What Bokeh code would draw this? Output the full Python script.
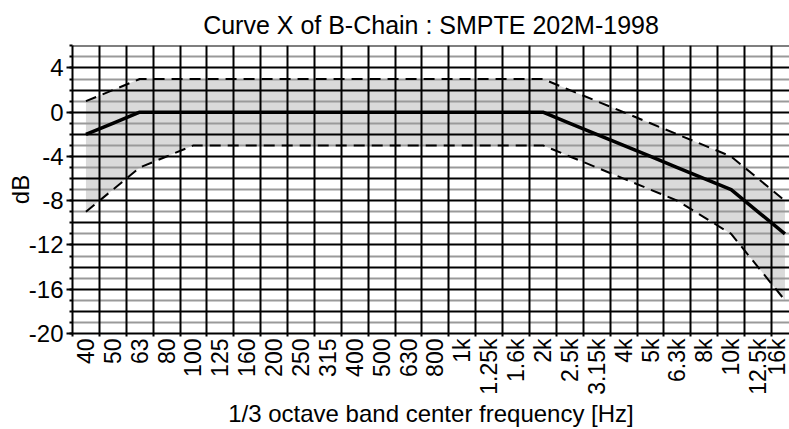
from math import pi
from bokeh.plotting import figure
from bokeh.models import Range1d, FixedTicker, SingleIntervalTicker, Grid
from bokeh.embed import file_html
from bokeh.resources import INLINE

# 1/3 octave band centre frequencies (tick labels)
bands = ["40", "50", "63", "80", "100", "125", "160", "200", "250", "315",
         "400", "500", "630", "800", "1k", "1.25k", "1.6k", "2k", "2.5k",
         "3.15k", "4k", "5k", "6.3k", "8k", "10k", "12.5k", "16k"]

# Curve X (dB) and tolerance limits
curve_x = [-2, -1, 0, 0, 0, 0, 0, 0, 0, 0, 0, 0, 0, 0, 0, 0, 0, 0,
           -1, -2, -3, -4, -5, -6, -7, -9, -11]
upper_tol = [1, 2, 3, 3, 3, 3, 3, 3, 3, 3, 3, 3, 3, 3, 3, 3, 3, 3,
             2, 1, 0, -1, -2, -3, -4, -6, -8]
lower_tol = [-9, -7, -5, -4, -3, -3, -3, -3, -3, -3, -3, -3, -3, -3, -3, -3, -3, -3,
             -4, -5, -6, -7, -8, -9.5, -11, -14, -17]

# y tick labels (hyphen-minus as in the original)
db_labels = [-20, -16, -12, -8, -4, 0, 4]
db_even = list(range(-20, 7, 2))
db_odd = list(range(-19, 6, 2))

FONT = "Liberation Sans"
idx = list(range(len(bands)))

p = figure(width=789, height=429,
           x_range=Range1d(-0.5, 26.17), y_range=Range1d(-20, 6.03),
           output_backend="svg", toolbar_location=None,
           min_border_left=72, min_border_right=0, min_border_top=45, min_border_bottom=95)
p.outline_line_color = None
p.background_fill_color = "white"
p.border_fill_color = "white"

# title
p.title.text = "Curve X of B-Chain : SMPTE 202M-1998"
p.title.align = "center"
p.title.text_font = FONT
p.title.text_font_size = "25px"
p.title.text_font_style = "normal"
p.title.text_color = "black"
p.title.standoff = 13

# replace default grids
p.center = [r for r in p.center if not isinstance(r, Grid)]

g_odd = Grid(dimension=1, ticker=FixedTicker(ticks=db_odd),
             grid_line_color="#9a9a9a", grid_line_width=2)
g_even = Grid(dimension=1, ticker=FixedTicker(ticks=db_even),
              grid_line_color="black", grid_line_width=2)
g_x = Grid(dimension=0, ticker=FixedTicker(ticks=[i + 0.5 for i in idx[:-1]]),
           grid_line_color="black", grid_line_width=2)
p.add_layout(g_odd)
p.add_layout(g_even)
p.add_layout(g_x)

# tolerance band
p.varea(x=idx, y1=lower_tol, y2=upper_tol, fill_color="#dadada", level="image")
p.line(idx, upper_tol, line_color="black", line_width=2, line_dash="11 7")
p.line(idx, lower_tol, line_color="black", line_width=2, line_dash="11 7")
p.line(idx, curve_x, line_color="black", line_width=3.5)

# y axis
yax = p.yaxis[0]
yax.ticker = SingleIntervalTicker(interval=4, num_minor_ticks=4)
yax.major_label_overrides = {v: str(v) for v in db_labels}
yax.axis_line_color = "black"
yax.axis_line_width = 2
yax.major_tick_out = 6
yax.major_tick_in = 0
yax.minor_tick_out = 3
yax.minor_tick_in = 0
yax.major_tick_line_width = 2
yax.minor_tick_line_width = 2
yax.major_label_standoff = 3
yax.major_label_text_font = FONT
yax.major_label_text_font_size = "24px"
yax.major_label_text_color = "black"
yax.axis_label = "dB"
yax.axis_label_standoff = -8
yax.axis_label_text_font = FONT
yax.axis_label_text_font_size = "24px"
yax.axis_label_text_font_style = "normal"
yax.axis_label_text_color = "black"

# x axis
xax = p.xaxis[0]
xax.ticker = FixedTicker(ticks=idx, minor_ticks=[i - 0.5 for i in idx])
xax.major_label_overrides = {i: b for i, b in enumerate(bands)}
xax.major_label_orientation = pi / 2
xax.axis_line_color = "black"
xax.axis_line_width = 2
xax.major_tick_out = 0
xax.major_tick_in = 0
xax.major_tick_line_color = None
xax.minor_tick_out = 3
xax.minor_tick_in = 0
xax.minor_tick_line_width = 2
xax.major_label_standoff = 2
xax.major_label_text_font = FONT
xax.major_label_text_font_size = "23px"
xax.major_label_text_color = "black"
xax.axis_label = "1/3 octave band center frequency [Hz]"
xax.axis_label_text_font = FONT
xax.axis_label_text_font_size = "24px"
xax.axis_label_text_font_style = "normal"
xax.axis_label_text_color = "black"
xax.axis_label_standoff = 2

open("out.html", "w").write(file_html(p, INLINE))
